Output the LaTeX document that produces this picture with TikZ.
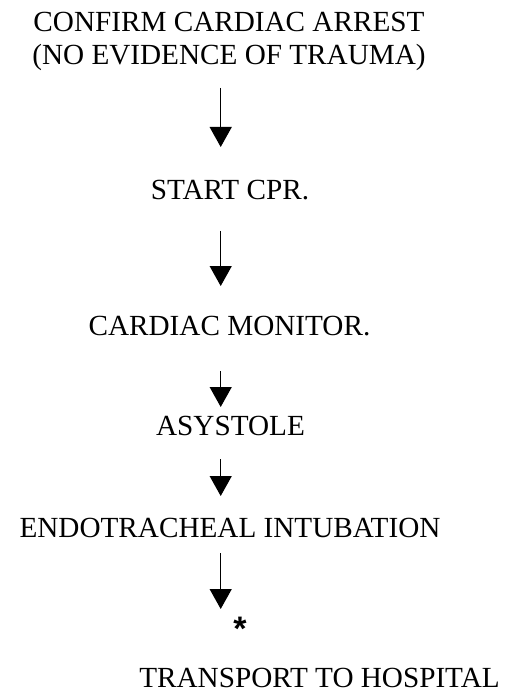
\documentclass[tikz,border=0pt]{standalone}
\usepackage{fontspec}
\setmainfont{Liberation Serif}
\newfontfamily\starfont{Liberation Sans}
\usepackage{tikz}
\usetikzlibrary{arrows.meta,positioning}

\begin{document}
\begin{tikzpicture}[x=1pt, y=-1pt, font=\fontsize{29.2}{33}\selectfont, >={Triangle[length=20pt,width=22pt]},
  step text/.style={inner sep=0pt, anchor=base},
  flow/.style 2 args={->, line width=1.2pt, shorten <=#1, shorten >=#2}]
\useasboundingbox (0,0) rectangle (505,692);
\coordinate (ax) at (220.7,0);
\node[step text, align=center] (confirm) at (229,65) {CONFIRM CARDIAC ARREST\\(NO EVIDENCE OF TRAUMA)};
\node[step text] (startcpr) at (230,200) {START CPR.};
\node[step text] (monitor) at (229.5,335) {CARDIAC MONITOR.};
\node[step text] (asystole) at (230.5,435) {ASYSTOLE};
\node[step text] (intubation) at (230,537) {ENDOTRACHEAL INTUBATION};
\node[inner sep=0pt, font=\starfont\bfseries\fontsize{34}{38}\selectfont] (star) at (240,629) {*};
\node[step text] (transport) at (319.5,687) {TRANSPORT TO HOSPITAL};
\draw[flow={23pt}{53pt}] (confirm.base -| ax) -- (startcpr.base -| ax);
\draw[flow={31pt}{49pt}] (startcpr.base -| ax) -- (monitor.base -| ax);
\draw[flow={36pt}{28pt}] (monitor.base -| ax) -- (asystole.base -| ax);
\draw[flow={24pt}{41pt}] (asystole.base -| ax) -- (intubation.base -| ax);
\draw[flow={16pt}{78pt}] (intubation.base -| ax) -- (transport.base -| ax);
\end{tikzpicture}
\end{document}
